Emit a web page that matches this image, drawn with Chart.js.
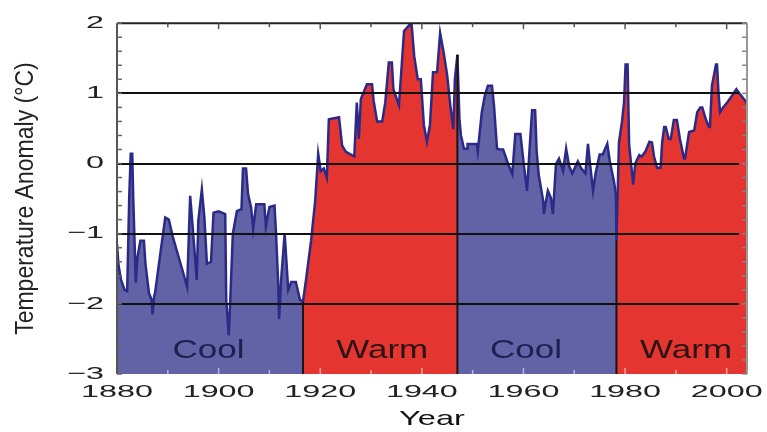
<!DOCTYPE html>
<html>
<head>
<meta charset="utf-8">
<script src="https://cdn.jsdelivr.net/npm/chart.js@4/dist/chart.umd.min.js"></script>
<style>
  html, body { margin: 0; padding: 0; background: #ffffff; }
  #wrap { width: 767px; height: 432px; }
</style>
</head>
<body>
<div id="wrap"><canvas id="c" width="767" height="432"></canvas></div>
<script>
// ---- data ----
const years = [
  1880.0, 1880.3, 1880.8, 1881.5, 1882.0, 1882.4, 1882.7, 1883.0, 1883.2, 1883.7,
  1884.0, 1884.6, 1885.3, 1885.6, 1886.3, 1886.8, 1887.0, 1887.3, 1887.5, 1888.5,
  1889.5, 1890.2, 1891.0, 1892.0, 1893.0, 1893.8, 1894.4, 1894.9, 1895.7, 1896.0,
  1896.7, 1897.2, 1897.7, 1898.5, 1899.0, 1900.0, 1901.3, 1901.5, 1902.0, 1902.3,
  1902.8, 1903.6, 1904.5, 1904.8, 1905.4, 1905.8, 1906.4, 1906.8, 1907.4, 1909.0,
  1909.3, 1910.0, 1911.0, 1911.3, 1911.7, 1911.9, 1912.3, 1913.0, 1913.7, 1914.3,
  1915.2, 1916.0, 1916.6,
  1917.2, 1918.2, 1919.0, 1919.6, 1920.1, 1920.7, 1921.3, 1921.7, 1923.7, 1924.3,
  1925.0, 1926.7, 1927.2, 1927.6, 1928.0, 1929.2, 1930.2, 1930.5, 1931.2, 1932.2,
  1932.8, 1933.5, 1934.1, 1934.4, 1935.5, 1936.5, 1937.5, 1938.0, 1938.5, 1939.2,
  1939.8, 1940.4, 1941.0, 1941.6, 1942.2, 1943.0, 1943.6, 1944.3, 1945.0, 1945.6,
  1946.2, 1946.5, 1947.0,
  1947.4, 1947.7, 1948.3, 1948.9, 1949.0, 1950.8, 1951.0, 1951.8, 1952.4, 1953.0,
  1953.8, 1954.2, 1954.8, 1955.4, 1956.0, 1957.0, 1957.8, 1958.4, 1959.4, 1960.0,
  1960.7, 1961.2, 1961.7, 1962.3, 1962.6, 1963.0, 1963.9, 1964.0, 1964.8, 1965.4,
  1965.8, 1966.4, 1967.0, 1967.8, 1968.4, 1969.0, 1969.6, 1970.7, 1971.3, 1972.2,
  1972.7, 1973.1, 1973.7, 1974.2, 1975.0, 1975.6, 1976.5, 1977.0, 1977.8, 1978.2,
  1978.3,
  1978.8, 1979.4, 1979.8, 1980.1, 1980.5, 1980.8, 1981.6, 1982.0, 1982.8, 1983.3,
  1984.0, 1984.8, 1985.3, 1985.7, 1986.3, 1987.0, 1987.3, 1987.7, 1988.0, 1988.6,
  1989.0, 1989.6, 1990.2, 1990.8, 1991.6, 1991.8, 1992.6, 1993.6, 1994.2, 1994.8,
  1995.2, 1995.9, 1996.5, 1996.7, 1997.1, 1997.9, 1998.1, 1998.4, 1998.7, 1999.3,
  2000.1, 2000.8, 2001.9, 2002.6, 2003.6, 2004.0
];
const anomaly = [
  -1.15, -1.45, -1.66, -1.80, -1.82, -0.50, 0.14, 0.14, -0.50, -1.70,
  -1.35, -1.10, -1.10, -1.43, -1.85, -1.94, -2.15, -1.90, -1.84, -1.30,
  -0.77, -0.80, -1.05, -1.30, -1.55, -1.76, -0.46, -0.91, -1.66, -0.82,
  -0.37, -0.77, -1.43, -1.40, -0.70, -0.68, -0.72, -1.94, -2.45, -1.94,
  -1.00, -0.68, -0.65, -0.07, -0.07, -0.44, -0.63, -0.93, -0.58, -0.58,
  -0.90, -0.62, -0.60, -1.00, -1.66, -2.22, -1.66, -1.00, -1.80, -1.69,
  -1.69, -1.94, -1.97,
  -1.66, -1.10, -0.54, 0.14, -0.11, -0.07, -0.20, 0.63, 0.66, 0.26,
  0.17, 0.10, 0.87, 0.35, 0.92, 1.13, 1.13, 0.90, 0.60, 0.60,
  0.87, 1.44, 1.44, 1.06, 0.83, 1.89, 1.97, 1.97, 1.53, 1.20,
  1.20, 0.55, 0.31, 0.55, 1.30, 1.30, 1.86, 1.58, 1.25, 0.83,
  0.49, 1.20, 1.55,
  0.63, 0.40, 0.21, 0.21, 0.28, 0.28, 0.17, 0.73, 0.97, 1.11,
  1.11, 0.83, 0.21, 0.20, 0.20, -0.01, -0.15, 0.42, 0.42, 0.03,
  -0.39, 0.20, 0.76, 0.76, 0.17, -0.16, -0.54, -0.72, -0.39, -0.49,
  -0.72, -0.01, 0.07, -0.11, 0.21, -0.04, -0.14, 0.03, -0.06, -0.14,
  0.28, 0.00, -0.39, -0.14, 0.13, 0.13, 0.28, 0.03, -0.25, -0.44,
  -1.10,
  0.30, 0.60, 0.87, 1.41, 1.41, 0.27, -0.30, 0.00, 0.12, 0.10,
  0.17, 0.31, 0.30, 0.10, -0.06, -0.06, 0.30, 0.52, 0.52, 0.35,
  0.35, 0.62, 0.62, 0.35, 0.07, 0.07, 0.45, 0.47, 0.73, 0.80,
  0.80, 0.63, 0.52, 0.52, 1.11, 1.41, 1.41, 1.00, 0.73, 0.80,
  0.87, 0.94, 1.06, 0.99, 0.90, 0.85
];
const periodStart = [1880, 1916.6, 1947.0, 1978.3];
const periodEnd   = [1916.6, 1947.0, 1978.3, 2004];
const periodName  = ['Cool', 'Warm', 'Cool', 'Warm'];
const periodLabelYear = [1898, 1932.2, 1960.5, 1992];
const periodLabelValue = -2.68;
const xTicks = [1880, 1900, 1920, 1940, 1960, 1980, 2000];
const yTicks = [-3, -2, -1, 0, 1, 2];
const gridValues = [-2, -1, 0, 1];

// ---- styles ----
const COOL = '#6163a6';
const WARM = '#e53530';
const LINE = '#2c2a88';
const FONT = "'Liberation Sans', Arial, sans-serif";

const canvas = document.getElementById('c');
const ctx = canvas.getContext('2d');

// horizontal stretch of glyphs (the reference lettering is drawn wide)
const stretchBySize = { 17: [1.9, 1], 21: [1.55, 1], 23: [1, 1.12] };
const origFill = ctx.fillText.bind(ctx);
ctx.fillText = function (t, x, y) {
  const m = /(\d+(?:\.\d+)?)px/.exec(ctx.font);
  const s = m && stretchBySize[Math.round(+m[1])];
  if (!s) return origFill(t, x, y);
  ctx.save();
  ctx.translate(x, y);
  ctx.scale(s[0], s[1]);
  origFill(t, 0, 0);
  ctx.restore();
};

const datasets = periodName.map((name, i) => {
  const pts = [];
  years.forEach((yr, k) => {
    if (yr >= periodStart[i] && yr <= periodEnd[i]) pts.push({ x: yr, y: anomaly[k] });
  });
  return {
    label: name,
    data: pts,
    borderColor: LINE,
    borderWidth: 2.5,
    backgroundColor: name === 'Cool' ? COOL : WARM,
    fill: 'start',
    pointRadius: 0,
    tension: 0
  };
});

function valueAt(yr) {
  const k = years.indexOf(yr);
  return k >= 0 ? anomaly[k] : null;
}

const decor = {
  id: 'decor',
  afterDatasetsDraw(chart) {
    const { ctx: c, chartArea: a, scales: { x, y } } = chart;
    c.save();
    // period boundary lines
    c.strokeStyle = '#151515';
    c.lineWidth = 2;
    for (let i = 1; i < periodStart.length; i++) {
      const v = valueAt(periodStart[i]);
      const px = x.getPixelForValue(periodStart[i]);
      c.beginPath();
      c.moveTo(px, a.bottom);
      c.lineTo(px, y.getPixelForValue(v));
      c.stroke();
    }
    // horizontal reference lines
    c.strokeStyle = '#111';
    c.lineWidth = 2;
    gridValues.forEach(v => {
      const py = Math.round(y.getPixelForValue(v));
      c.beginPath();
      c.moveTo(a.left, py);
      c.lineTo(a.right - 8, py);
      c.stroke();
    });
    // frame
    c.lineWidth = 2;
    c.strokeStyle = '#222';
    c.beginPath(); c.moveTo(a.left, a.top); c.lineTo(a.right, a.top); c.stroke();
    c.strokeStyle = '#555';
    c.beginPath(); c.moveTo(a.left, a.top); c.lineTo(a.left, a.bottom); c.stroke();
    c.strokeStyle = '#999';
    c.beginPath(); c.moveTo(a.right, a.top); c.lineTo(a.right, a.bottom); c.stroke();
    // minor ticks on left and right
    c.lineWidth = 1.5;
    for (let v = yTicks[0]; v <= yTicks[yTicks.length - 1] + 1e-9; v += 0.2) {
      const py = y.getPixelForValue(v);
      c.strokeStyle = '#666';
      c.beginPath(); c.moveTo(a.left, py); c.lineTo(a.left + 5, py); c.stroke();
      c.strokeStyle = '#888';
      c.beginPath(); c.moveTo(a.right, py); c.lineTo(a.right - 5, py); c.stroke();
    }
    // ticks on top and bottom
    for (let yr = 1890; yr < 2004; yr += 10) {
      const px = x.getPixelForValue(yr);
      const len = yr % 20 === 0 ? 6 : 4;
      c.strokeStyle = '#555';
      c.beginPath(); c.moveTo(px, a.top); c.lineTo(px, a.top + len); c.stroke();
      c.strokeStyle = 'rgba(255,255,255,0.55)';
      c.beginPath(); c.moveTo(px, a.bottom); c.lineTo(px, a.bottom - len); c.stroke();
    }
    // period names
    c.font = '25px ' + FONT;
    c.textAlign = 'center';
    c.textBaseline = 'middle';
    periodName.forEach((name, i) => {
      c.fillStyle = name === 'Cool' ? '#1f1f4e' : '#2a1414';
      const px = x.getPixelForValue(periodLabelYear[i]);
      const py = y.getPixelForValue(periodLabelValue);
      c.save();
      c.translate(px, py);
      c.scale(1.4, 1);
      origFill(name, 0, 0);
      c.restore();
    });
    c.restore();
  }
};

new Chart(ctx, {
  type: 'line',
  data: { datasets },
  options: {
    responsive: false,
    devicePixelRatio: 1,
    animation: false,
    layout: { padding: { top: 19, right: 20, left: 0, bottom: 0 } },
    plugins: { legend: { display: false }, tooltip: { enabled: false } },
    scales: {
      x: {
        type: 'linear',
        min: 1880,
        max: 2004,
        grid: { display: false, drawTicks: false },
        border: { display: false },
        afterBuildTicks(s) { s.ticks = xTicks.map(v => ({ value: v })); },
        afterFit(s) { s.height = 58; },
        ticks: {
          padding: 8,
          maxRotation: 0,
          autoSkip: false,
          color: '#222',
          font: { family: FONT, size: 17 },
          callback: v => String(v)
        },
        title: {
          display: true,
          text: 'Year',
          color: '#111',
          padding: { top: 0, bottom: 0 },
          font: { family: FONT, size: 21 }
        }
      },
      y: {
        min: -3,
        max: 2,
        grid: { display: false, drawTicks: false },
        border: { display: false },
        afterBuildTicks(s) { s.ticks = yTicks.map(v => ({ value: v })); },
        afterFit(s) { s.width = 117; },
        ticks: {
          padding: 13,
          color: '#222',
          font: { family: FONT, size: 17 },
          callback: v => (v < 0 ? '\u2212' + Math.abs(v) : String(v))
        },
        title: {
          display: true,
          text: 'Temperature Anomaly (\u00B0C)',
          color: '#222',
          padding: { top: 12, bottom: 0 },
          font: { family: FONT, size: 23 }
        }
      }
    }
  },
  plugins: [decor]
});
</script>
</body>
</html>
